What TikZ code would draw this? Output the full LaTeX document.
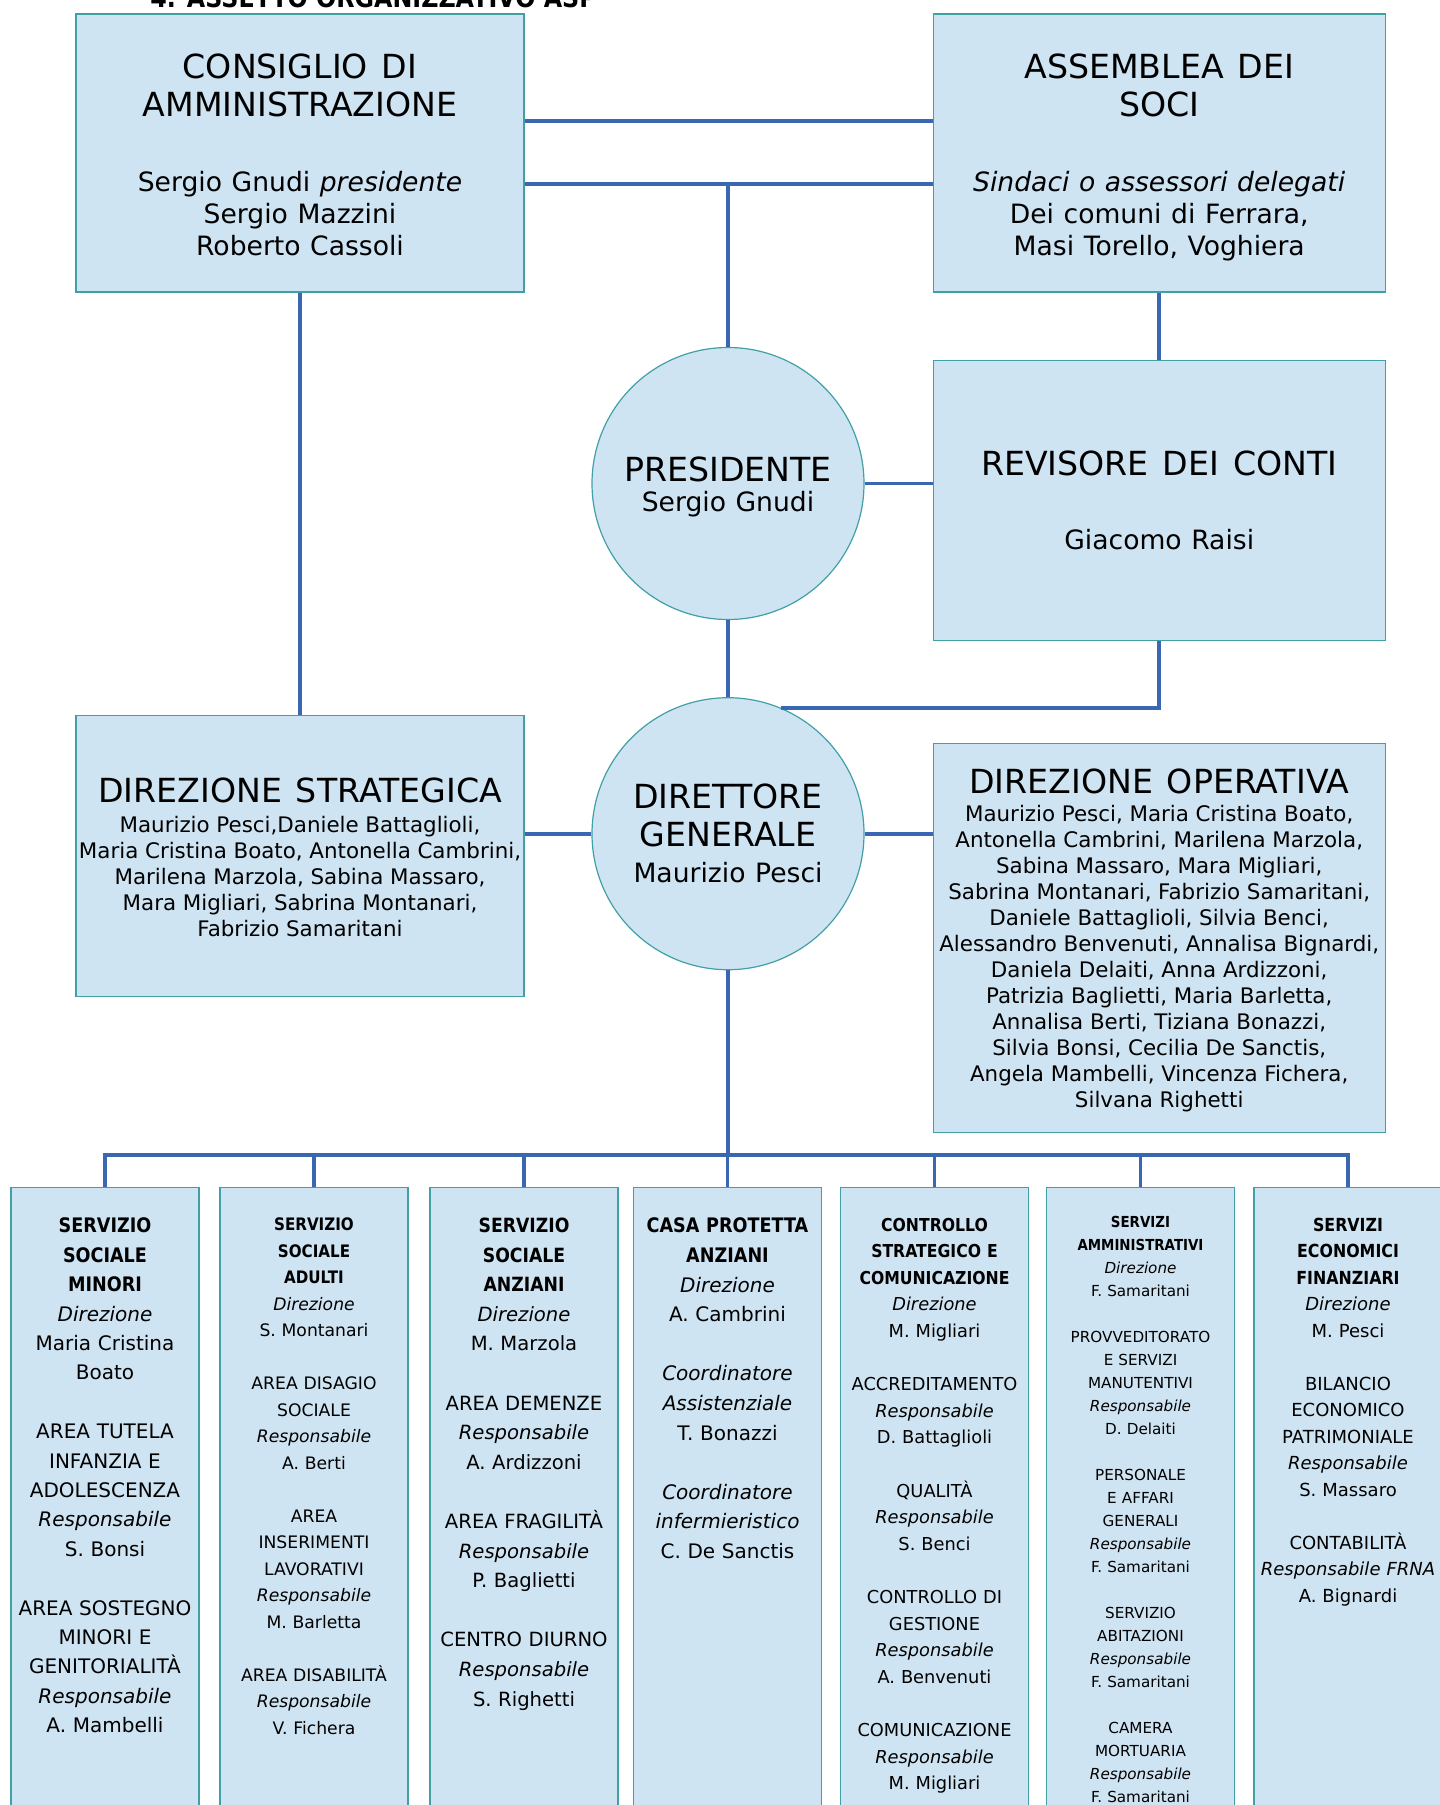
\documentclass[tikz,border=0pt]{standalone}
\usepackage{fontspec}
\setmainfont[BoldFeatures={FakeStretch=0.88}]{DejaVu Sans}
\usetikzlibrary{positioning}

\definecolor{boxfill}{RGB}{207,228,242}
\definecolor{boxedge}{RGB}{64,160,165}
\definecolor{linkblue}{RGB}{58,103,177}

\newcommand{\ttlfont}{\fontsize{16.6}{19}\selectfont\spaceskip=0.42em\relax}
\newcommand{\namfont}{\fontsize{13.3}{16}\selectfont\spaceskip=0.36em\relax}
\newcommand{\dirfont}{\fontsize{16.6}{19}\selectfont\spaceskip=0.42em\relax}
\newcommand{\lstfont}{\fontsize{10.7}{13}\selectfont}

\begin{document}
\begin{tikzpicture}[
  x=0.5pt, y=-0.5pt,
  box/.style={draw=boxedge, fill=boxfill, line width=0.6pt, align=center, inner sep=0pt, text width=224pt, minimum width=224pt},
  wbox/.style={box, text width=226pt, minimum width=226pt},
  disc/.style={circle, draw=boxedge, fill=boxfill, line width=0.6pt, align=center, inner sep=0pt, minimum size=136pt, text width=112pt},
  unit/.style={draw=boxedge, fill=boxfill, line width=0.6pt, anchor=north, minimum width=94pt, minimum height=330pt, inner sep=0pt},
  unittext/.style={align=center, anchor=north, inner sep=0pt, text width=110pt},
  link/.style={draw=linkblue, line width=1.8pt}
]
\useasboundingbox (0,0) rectangle (1440,1805);
\clip (0,0) rectangle (1440,1805);

% heading, cut by the page edge
\node[anchor=base west, inner sep=0pt, font=\fontsize{13.5}{16}\selectfont\bfseries] (head) at (150,7) {4. ASSETTO ORGANIZZATIVO ASP};

% Top: governing bodies
\node[box, minimum height=139pt] (cda) at (300,153) {{\ttlfont\rule{0pt}{14pt}CONSIGLIO DI\\AMMINISTRAZIONE\par}\vspace{21.5pt}{\namfont Sergio Gnudi \textit{presidente}\\Sergio Mazzini\\Roberto Cassoli\par}};
\node[wbox, minimum height=139pt, right=204pt of cda] (ass) {{\ttlfont\rule{0pt}{16.7pt}ASSEMBLEA DEI\\SOCI\par}\vspace{21.5pt}{\namfont \textit{Sindaci o assessori delegati}\\Dei comuni di Ferrara,\\Masi Torello, Voghiera\par}};

% Center: presidente and revisore
\node[disc] (pres) at (728,483.5) {{\ttlfont\rule{0pt}{15.6pt}PRESIDENTE\par}\vspace{-0.7pt}{\namfont Sergio Gnudi\par}};
\node[wbox, minimum height=140pt, below=33.5pt of ass] (rev) {{\ttlfont REVISORE DEI CONTI\par}\vspace{21pt}{\namfont Giacomo Raisi\par}};

% Direzione row
\node[disc, below=38.5pt of pres] (dg) {{\ttlfont DIRETTORE\\GENERALE\par}\vspace{2pt}{\namfont Maurizio Pesci\par}};
\node[box, minimum height=140.5pt, below=211pt of cda] (strat) {{\dirfont\rule{0pt}{14pt}DIREZIONE STRATEGICA\par}\vspace{2pt}{\lstfont Maurizio Pesci,Daniele Battaglioli,\\Maria Cristina Boato, Antonella Cambrini,\\Marilena Marzola, Sabina Massaro,\\Mara Migliari, Sabrina Montanari,\\Fabrizio Samaritani\par}};
\node[wbox, minimum height=194.5pt, below=51pt of rev] (oper) {{\dirfont\rule{0pt}{14.5pt}DIREZIONE OPERATIVA\par}\vspace{1pt}{\lstfont Maurizio Pesci, Maria Cristina Boato,\\Antonella Cambrini, Marilena Marzola,\\Sabina Massaro, Mara Migliari,\\Sabrina Montanari, Fabrizio Samaritani,\\Daniele Battaglioli, Silvia Benci,\\Alessandro Benvenuti, Annalisa Bignardi,\\Daniela Delaiti, Anna Ardizzoni,\\Patrizia Baglietti, Maria Barletta,\\Annalisa Berti, Tiziana Bonazzi,\\Silvia Bonsi, Cecilia De Sanctis,\\Angela Mambelli, Vincenza Fichera,\\Silvana Righetti\par}};

% Bottom: services
\node[unit] (s1) at (105,1187) {};
\node[unit] (s2) at (314,1187) {};
\node[unit] (s3) at (524,1187) {};
\node[unit] (s4) at (727.5,1187) {};
\node[unit] (s5) at (934.5,1187) {};
\node[unit] (s6) at (1140.5,1187) {};
\node[unit] (s7) at (1348,1187) {};

\node[unittext, below=15.3pt of s1.north, font=\fontsize{10}{14.7}\selectfont] (s1t) {\textbf{SERVIZIO}\\\textbf{SOCIALE}\\\textbf{MINORI}\\\textit{Direzione}\\Maria Cristina\\Boato\\[\baselineskip]AREA TUTELA\\INFANZIA E\\ADOLESCENZA\\\textit{Responsabile}\\S. Bonsi\\[\baselineskip]AREA SOSTEGNO\\MINORI E\\GENITORIALITÀ\\\textit{Responsabile}\\A. Mambelli};
\node[unittext, below=15.3pt of s2.north, font=\fontsize{8.6}{13.25}\selectfont] (s2t) {\textbf{SERVIZIO}\\\textbf{SOCIALE}\\\textbf{ADULTI}\\\textit{Direzione}\\S. Montanari\\[\baselineskip]AREA DISAGIO\\SOCIALE\\\textit{Responsabile}\\A. Berti\\[\baselineskip]AREA\\INSERIMENTI\\LAVORATIVI\\\textit{Responsabile}\\M. Barletta\\[\baselineskip]AREA DISABILITÀ\\\textit{Responsabile}\\V. Fichera};
\node[unittext, below=15.3pt of s3.north, font=\fontsize{9.8}{14.8}\selectfont] (s3t) {\textbf{SERVIZIO}\\\textbf{SOCIALE}\\\textbf{ANZIANI}\\\textit{Direzione}\\M. Marzola\\[\baselineskip]AREA DEMENZE\\\textit{Responsabile}\\A. Ardizzoni\\[\baselineskip]AREA FRAGILITÀ\\\textit{Responsabile}\\P. Baglietti\\[\baselineskip]CENTRO DIURNO\\\textit{Responsabile}\\S. Righetti};
\node[unittext, below=15.3pt of s4.north, font=\fontsize{10}{14.8}\selectfont] (s4t) {\textbf{CASA PROTETTA}\\\textbf{ANZIANI}\\\textit{Direzione}\\A. Cambrini\\[\baselineskip]\textit{Coordinatore}\\\textit{Assistenziale}\\T. Bonazzi\\[\baselineskip]\textit{Coordinatore}\\\textit{infermieristico}\\C. De Sanctis};
\node[unittext, below=15.2pt of s5.north, font=\fontsize{8.9}{13.3}\selectfont] (s5t) {\textbf{CONTROLLO}\\\textbf{STRATEGICO E}\\\textbf{COMUNICAZIONE}\\\textit{Direzione}\\M. Migliari\\[\baselineskip]ACCREDITAMENTO\\\textit{Responsabile}\\D. Battaglioli\\[\baselineskip]QUALITÀ\\\textit{Responsabile}\\S. Benci\\[\baselineskip]CONTROLLO DI\\GESTIONE\\\textit{Responsabile}\\A. Benvenuti\\[\baselineskip]COMUNICAZIONE\\\textit{Responsabile}\\M. Migliari};
\node[unittext, below=14.3pt of s6.north, font=\fontsize{7.6}{11.5}\selectfont] (s6t) {\textbf{SERVIZI}\\\textbf{AMMINISTRATIVI}\\\textit{Direzione}\\F. Samaritani\\[\baselineskip]PROVVEDITORATO\\E SERVIZI\\MANUTENTIVI\\\textit{Responsabile}\\D. Delaiti\\[\baselineskip]PERSONALE\\E AFFARI\\GENERALI\\\textit{Responsabile}\\F. Samaritani\\[\baselineskip]SERVIZIO\\ABITAZIONI\\\textit{Responsabile}\\F. Samaritani\\[\baselineskip]CAMERA\\MORTUARIA\\\textit{Responsabile}\\F. Samaritani};
\node[unittext, below=15.2pt of s7.north, font=\fontsize{9}{13.25}\selectfont] (s7t) {\textbf{SERVIZI}\\\textbf{ECONOMICI}\\\textbf{FINANZIARI}\\\textit{Direzione}\\M. Pesci\\[\baselineskip]BILANCIO\\ECONOMICO\\PATRIMONIALE\\\textit{Responsabile}\\S. Massaro\\[\baselineskip]CONTABILITÀ\\\textit{Responsabile FRNA}\\A. Bignardi};

% Connectors
\coordinate (upjoin) at ([yshift=16pt]cda.east);
\coordinate (lowjoin) at ([yshift=-15.5pt]cda.east);
\draw[link] (upjoin) -- (upjoin -| ass.west);
\draw[link] (lowjoin) -- (lowjoin -| ass.west);
\draw[link] (pres.north) -- (pres.north |- lowjoin);
\draw[link] (ass.south) -- (rev.north);
\draw[link] (pres.east) -- (pres.east -| rev.west);
\draw[link] (pres.south) -- (dg.north);
\draw[link] (rev.south) |- (dg.67);
\draw[link] (cda.south) -- (strat.north);
\draw[link] (strat.east |- dg.west) -- (dg.west);
\draw[link] (dg.east) -- (dg.east -| oper.west);

% bus to the services
\coordinate (bus) at (728,1155);
\draw[link] (dg.south) -- (bus);
\draw[link] (s1.north) |- (bus) -| (s7.north);
\draw[link] (s2.north) -- (s2.north |- bus);
\draw[link] (s3.north) -- (s3.north |- bus);
\draw[link] (s4.north) -- (s4.north |- bus);
\draw[link] (s5.north) -- (s5.north |- bus);
\draw[link] (s6.north) -- (s6.north |- bus);

\end{tikzpicture}
\end{document}
